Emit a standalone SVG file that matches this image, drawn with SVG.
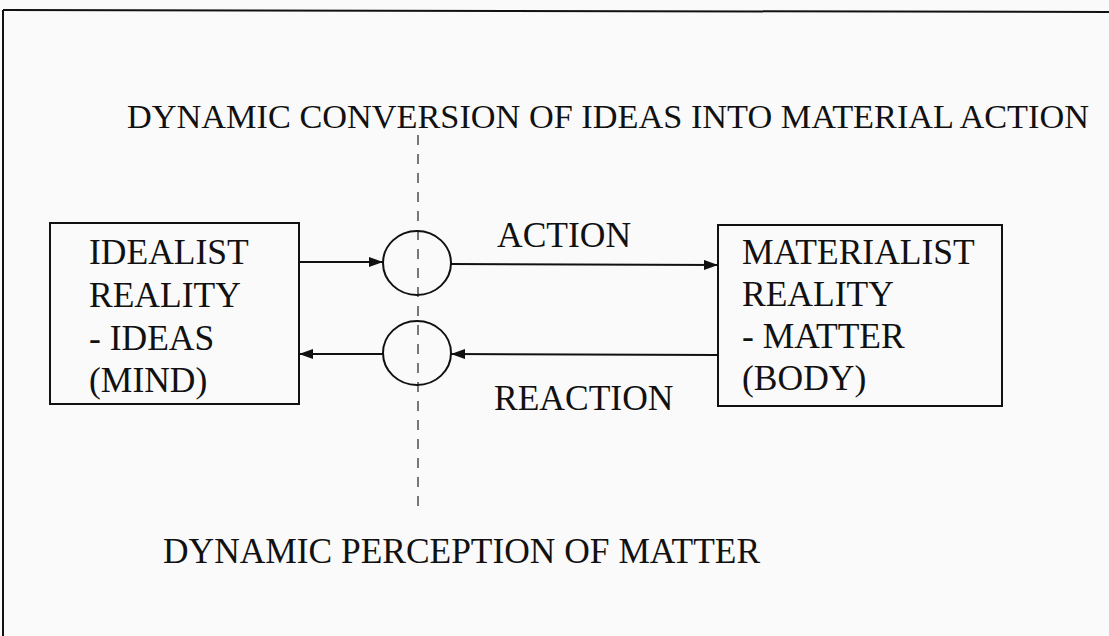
<svg xmlns="http://www.w3.org/2000/svg" width="1109" height="636" viewBox="0 0 1109 636">
<defs>
<style>
.t{font-family:"Liberation Serif","Times New Roman",serif;fill:#111;}
.b{font-size:35.5px;}
.box{fill:none;stroke:#111;stroke-width:2;}
.ln{fill:none;stroke:#111;stroke-width:2;}
</style>
<marker id="ah" viewBox="0 0 14 10" refX="14" refY="5" markerWidth="14" markerHeight="10" markerUnits="userSpaceOnUse" orient="auto">
<path d="M0,0 L14,5 L0,10 Z" fill="#111"/>
</marker>
</defs>
<rect width="1109" height="636" fill="#fafafa"/>
<g id="frame">
<path d="M3,10 L1109,12" class="ln"/>
<path d="M3,10 L3,636" class="ln"/>
</g>
<g id="titles">
<text class="t" x="127" y="128" font-size="33" textLength="962" lengthAdjust="spacingAndGlyphs">DYNAMIC CONVERSION OF IDEAS INTO MATERIAL ACTION</text>
<text class="t" x="163" y="563" font-size="35" textLength="597" lengthAdjust="spacingAndGlyphs">DYNAMIC PERCEPTION OF MATTER</text>
</g>
<g id="divider">
<path d="M418,135 L418,512" fill="none" stroke="#333" stroke-width="1.3" stroke-dasharray="10,9"/>
</g>
<g id="idealist">
<rect x="50" y="223" width="249" height="181" class="box"/>
<text class="t b" x="89" y="264">IDEALIST</text>
<text class="t b" x="89" y="307">REALITY</text>
<text class="t b" x="89" y="350">- IDEAS</text>
<text class="t b" x="89" y="392">(MIND)</text>
</g>
<g id="materialist">
<rect x="718" y="225" width="284" height="181" class="box"/>
<text class="t b" x="742" y="264">MATERIALIST</text>
<text class="t b" x="742" y="306">REALITY</text>
<text class="t b" x="742" y="348">- MATTER</text>
<text class="t b" x="742" y="390">(BODY)</text>
</g>
<g id="circle-action">
<ellipse cx="417" cy="263" rx="34" ry="32" class="box"/>
</g>
<g id="circle-reaction">
<ellipse cx="417" cy="353" rx="34" ry="32" class="box"/>
</g>
<g id="connectors">
<path d="M299,262 L383,262" class="ln" marker-end="url(#ah)"/>
<path d="M451,264 L718,265" class="ln" marker-end="url(#ah)"/>
<path d="M718,355 L451,354" class="ln" marker-end="url(#ah)"/>
<path d="M383,354 L299,354" class="ln" marker-end="url(#ah)"/>
</g>
<g id="labels">
<text class="t b" x="497" y="247">ACTION</text>
<text class="t b" x="494" y="410">REACTION</text>
</g>
</svg>
